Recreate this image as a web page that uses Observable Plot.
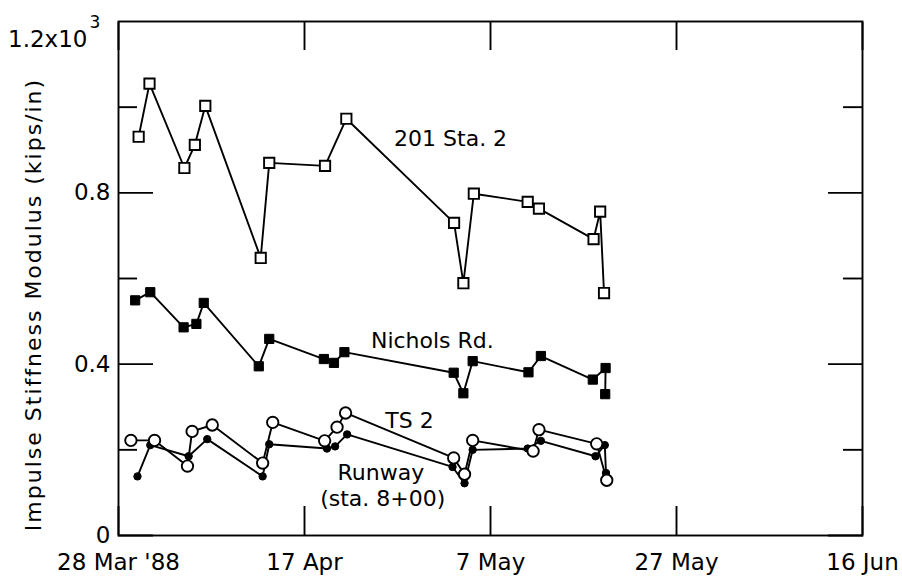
<!DOCTYPE html>
<html><head><meta charset="utf-8">
<script src="https://cdn.jsdelivr.net/npm/d3@7"></script>
<script src="https://cdn.jsdelivr.net/npm/@observablehq/plot@0.6"></script>
<style>html,body{margin:0;padding:0;background:#fff} svg{display:block}</style>
</head><body><div id="chart"></div>
<script>
// 201 Sta. 2 (open squares)
const sta2Dates = ["1988-03-30T04","1988-03-31T08","1988-04-04T02","1988-04-05T05","1988-04-06T08","1988-04-12T07","1988-04-13T05","1988-04-19T05","1988-04-21T12","1988-05-03T02","1988-05-04T02","1988-05-05T05","1988-05-11T00","1988-05-12T05","1988-05-18T02","1988-05-18T19","1988-05-19T05"];
const sta2Values = [0.931,1.055,0.858,0.912,1.003,0.648,0.870,0.863,0.973,0.730,0.589,0.798,0.779,0.763,0.692,0.756,0.566];
// Nichols Rd. (filled squares)
const nicholsDates = ["1988-03-29T19","1988-03-31T10","1988-04-04T00","1988-04-05T09","1988-04-06T04","1988-04-12T02","1988-04-13T05","1988-04-19T02","1988-04-20T04","1988-04-21T07","1988-05-03T01","1988-05-04T02","1988-05-05T02","1988-05-11T02","1988-05-12T10","1988-05-18T00","1988-05-19T09","1988-05-19T08"];
const nicholsValues = [0.549,0.568,0.486,0.494,0.543,0.395,0.459,0.412,0.403,0.428,0.380,0.332,0.407,0.381,0.419,0.364,0.391,0.330];
// TS 2 (open circles)
const ts2Dates = ["1988-03-29T08","1988-03-31T21","1988-04-04T10","1988-04-04T22","1988-04-07T02","1988-04-12T12","1988-04-13T14","1988-04-19T04","1988-04-20T12","1988-04-21T10","1988-05-03T01","1988-05-04T05","1988-05-05T02","1988-05-11T14","1988-05-12T05","1988-05-18T10","1988-05-19T12"];
const ts2Values = [0.222,0.222,0.162,0.243,0.258,0.169,0.264,0.221,0.253,0.286,0.181,0.143,0.222,0.197,0.247,0.214,0.129];
// Runway (sta. 8+00) (filled circles)
const runwayDates = ["1988-03-30T01","1988-03-31T10","1988-04-04T13","1988-04-06T13","1988-04-12T12","1988-04-13T05","1988-04-19T10","1988-04-20T07","1988-04-21T14","1988-05-02T22","1988-05-04T05","1988-05-05T02","1988-05-11T00","1988-05-12T10","1988-05-18T07","1988-05-19T07","1988-05-19T10"];
const runwayValues = [0.138,0.211,0.185,0.225,0.138,0.213,0.203,0.208,0.236,0.160,0.122,0.200,0.203,0.221,0.185,0.211,0.146];

const xTickDates = ["1988-03-28T00","1988-04-17T00","1988-05-07T00","1988-05-27T00","1988-06-16T00"];
const xTickLabels = ["28 Mar '88","17 Apr","7 May","27 May","16 Jun"];
const yMajorTicks = [0, 0.4, 0.8];
const yMinorTicks = [0.2, 0.6, 1.0];
const yMax = 1.2;
const yTopLabel = ["1.2x10", "3"];
const yTitle = "Impulse Stiffness Modulus (kips/in)";

const seriesLabelText = ["201 Sta. 2", "Nichols Rd.", "TS 2", "Runway", "(sta. 8+00)"];
const seriesLabelDates = ["1988-05-02T17","1988-04-30T18","1988-04-28T07","1988-04-25T05","1988-04-25T10"];
const seriesLabelValues = [0.925, 0.455, 0.268, 0.147, 0.086];

const parse = s => new Date(s + ":00:00Z");
const series = (dates, values) => dates.map((d, i) => ({date: parse(d), value: values[i]}));
const sta2 = series(sta2Dates, sta2Values);
const nichols = series(nicholsDates, nicholsValues);
const ts2 = series(ts2Dates, ts2Values);
const runway = series(runwayDates, runwayValues);
const xTicks = xTickDates.map(parse);
const labels = seriesLabelText.map((t, i) => ({text: t, date: parse(seriesLabelDates[i]), value: seriesLabelValues[i]}));
const xFmt = d => xTickLabels[xTicks.findIndex(t => +t === +d)];

const lineOpts = {x: "date", y: "value", stroke: "#000", strokeWidth: 1.9};
const sw = 1.9;

const chart = Plot.plot({
  width: 902, height: 578,
  marginLeft: 118, marginRight: 40, marginTop: 21, marginBottom: 43,
  style: {fontFamily: "'DejaVu Sans', sans-serif", fontSize: "23px", color: "#000", background: "#fff"},
  x: {type: "utc", domain: [xTicks[0], xTicks[xTicks.length - 1]]},
  y: {domain: [0, yMax]},
  marks: [
    Plot.frame({stroke: "#000", strokeWidth: sw}),
    // inward ticks
    Plot.axisY({anchor: "left", ticks: yMajorTicks, tickSize: -35, tickFormat: () => "", strokeWidth: sw, label: null}),
    Plot.axisY({anchor: "left", ticks: yMinorTicks, tickSize: -19, tickFormat: () => "", strokeWidth: sw, label: null}),
    Plot.axisY({anchor: "right", ticks: yMajorTicks, tickSize: -35, tickFormat: () => "", strokeWidth: sw, label: null}),
    Plot.axisY({anchor: "right", ticks: yMinorTicks, tickSize: -20, tickFormat: () => "", strokeWidth: sw, label: null}),
    Plot.axisX({anchor: "bottom", ticks: xTicks, tickSize: -29, tickFormat: () => "", strokeWidth: sw, label: null}),
    Plot.axisX({anchor: "top", ticks: xTicks, tickSize: -28, tickFormat: () => "", strokeWidth: sw, label: null}),
    // tick labels
    Plot.axisY({anchor: "left", ticks: yMajorTicks, tickSize: 0, tickPadding: 8, tickFormat: d => String(d), label: null}),
    Plot.axisX({anchor: "bottom", ticks: xTicks, tickSize: 0, tickPadding: 18, tickFormat: xFmt, label: null}),
    Plot.text([yTopLabel[0]], {frameAnchor: "top-left", text: d => d, textAnchor: "end", dx: -31, dy: 9}),
    Plot.text([yTopLabel[1]], {frameAnchor: "top-left", text: d => d, textAnchor: "start", dx: -29, dy: -6, fontSize: 17}),
    Plot.text([yTitle], {frameAnchor: "left", text: d => d, textAnchor: "middle", rotate: -90, dx: -85, dy: 26, fontSize: 22}),
    // lines
    Plot.line(sta2, lineOpts),
    Plot.line(nichols, lineOpts),
    Plot.line(ts2, lineOpts),
    Plot.line(runway, lineOpts),
    // markers
    Plot.dot(sta2, {x: "date", y: "value", symbol: "square", r: 5.8, fill: "#fff", stroke: "#000", strokeWidth: 1.9}),
    Plot.dot(nichols, {x: "date", y: "value", symbol: "square", r: 5.2, fill: "#000", stroke: "#000", strokeWidth: 1}),
    Plot.dot(runway, {x: "date", y: "value", symbol: "circle", r: 3.7, fill: "#000", stroke: "#000", strokeWidth: 1}),
    Plot.dot(ts2, {x: "date", y: "value", symbol: "circle", r: 5.7, fill: "#fff", stroke: "#000", strokeWidth: 1.9}),
    // series labels
    Plot.text(labels, {x: "date", y: "value", text: "text", fontSize: 22})
  ]
});
d3.select(chart).selectAll("text").filter(function () { return this.textContent === yTitle; }).attr("letter-spacing", 2);
document.getElementById("chart").appendChild(chart);
</script>
</body></html>
